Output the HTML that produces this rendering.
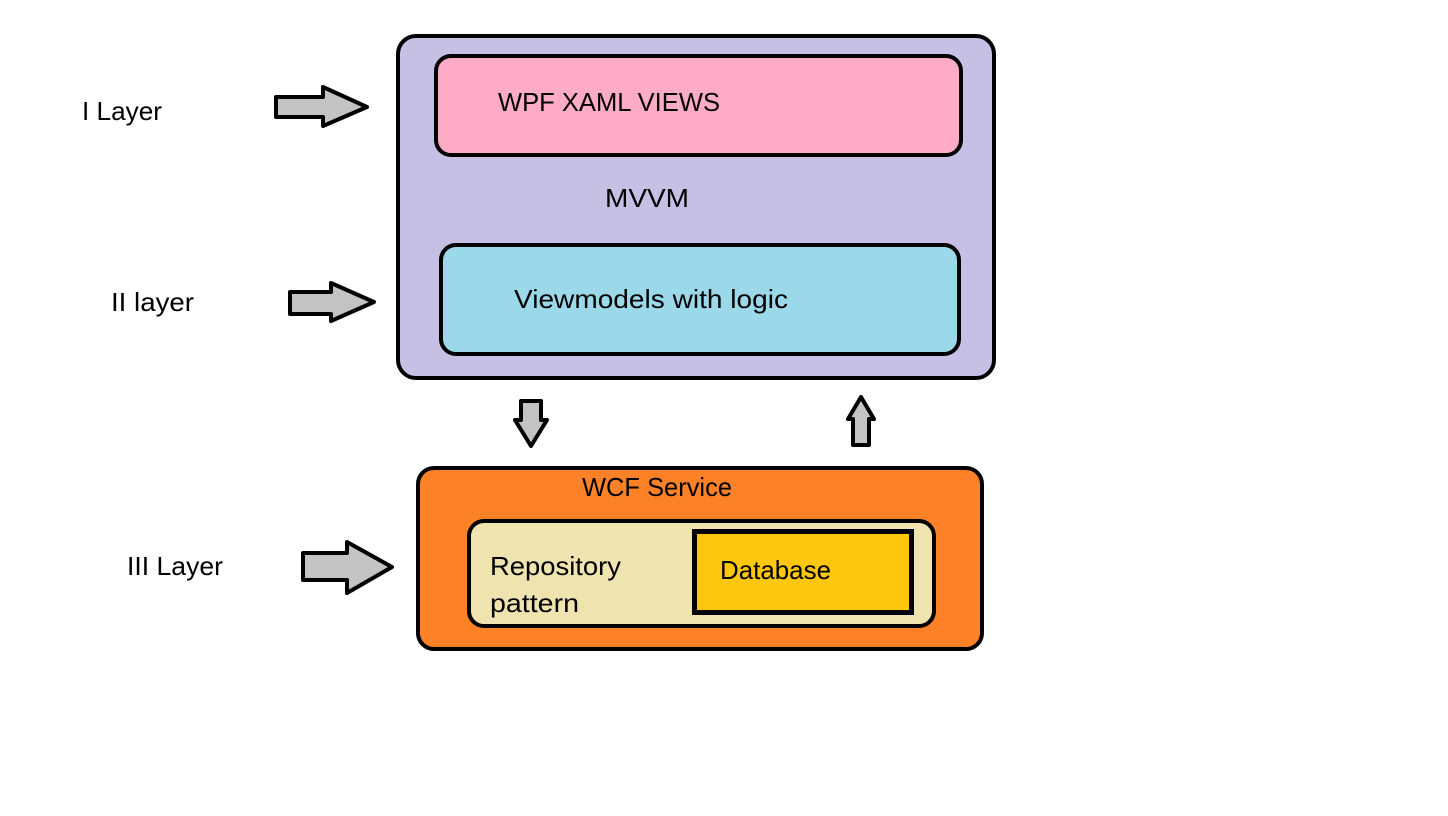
<!DOCTYPE html>
<html><head><meta charset="utf-8"><style>html,body{margin:0;padding:0;background:#fff}svg{display:block}</style></head>
<body>
<svg width="1448" height="816" viewBox="0 0 1448 816" xmlns="http://www.w3.org/2000/svg" font-family="'Liberation Sans', sans-serif" font-size="26" fill="#000">
<rect x="0" y="0" width="1448" height="816" fill="#fff"/>
<g stroke="#000" stroke-width="4" stroke-linejoin="round">
<rect x="398" y="36" width="596" height="342" rx="18" fill="#c7c0e5"/>
<rect x="436" y="56" width="525" height="99" rx="15" fill="#feabc8"/>
<rect x="441" y="245" width="518" height="109" rx="15" fill="#9bd8e9"/>
<rect x="418" y="468" width="564" height="181" rx="16" fill="#fd8126"/>
<rect x="469" y="521" width="465" height="105" rx="15" fill="#efe3b0"/>
<rect x="694.5" y="531.5" width="217" height="81" fill="#fdc70e" stroke-width="5" stroke-linejoin="miter"/>
<g fill="#c3c3c3" stroke-width="4">
<polygon points="276,97 323,97 323,87 367,107 323,126 323,117 276,117"/>
<polygon points="290,292 331,292 331,283 374,302 331,321 331,314 290,314"/>
<polygon points="303,553 347,553 347,542 392,567 347,593 347,580 303,580"/>
<polygon points="521,401 541,401 541,420 547,420 531,446 515,420 521,420"/>
<polygon points="853,445 869,445 869,419 874,419 861,397 848,419 853,419"/>
</g>
</g>
<g stroke="none">
<text x="82" y="120" textLength="80" lengthAdjust="spacingAndGlyphs">I Layer</text>
<text x="111" y="311" textLength="83" lengthAdjust="spacingAndGlyphs">II layer</text>
<text x="127" y="575" textLength="96" lengthAdjust="spacingAndGlyphs">III Layer</text>
<text x="498" y="111" textLength="222" lengthAdjust="spacingAndGlyphs">WPF XAML VIEWS</text>
<text x="605" y="207" textLength="84" lengthAdjust="spacingAndGlyphs">MVVM</text>
<text x="514" y="308" textLength="274" lengthAdjust="spacingAndGlyphs">Viewmodels with logic</text>
<text x="582" y="496" textLength="150" lengthAdjust="spacingAndGlyphs">WCF Service</text>
<text x="490" y="575" textLength="131" lengthAdjust="spacingAndGlyphs">Repository</text>
<text x="490" y="612" textLength="89" lengthAdjust="spacingAndGlyphs">pattern</text>
<text x="720" y="579" textLength="111" lengthAdjust="spacingAndGlyphs">Database</text>
</g>
</svg>
</body></html>
